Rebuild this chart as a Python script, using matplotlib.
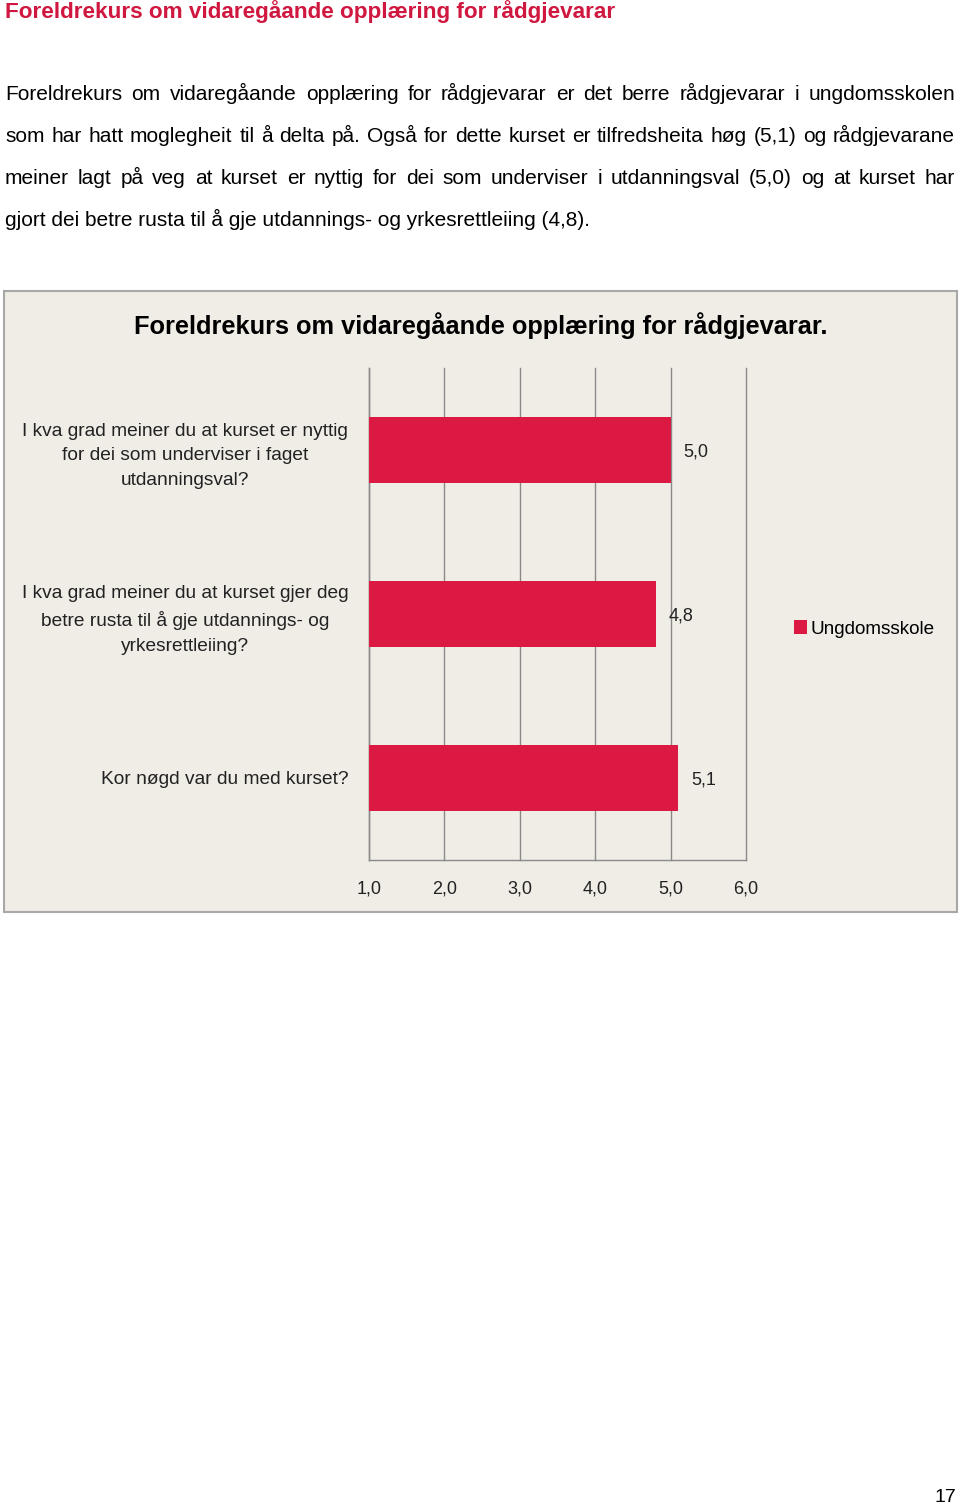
import matplotlib.pyplot as plt
from matplotlib.patches import Rectangle

# page text
page_title = 'Foreldrekurs om vidaregåande opplæring for rådgjevarar'
body_lines = [
    'Foreldrekurs om vidaregåande opplæring for rådgjevarar er det berre rådgjevarar i ungdomsskolen',
    'som har hatt moglegheit til å delta på. Også for dette kurset er tilfredsheita høg (5,1) og rådgjevarane',
    'meiner lagt på veg at kurset er nyttig for dei som underviser i utdanningsval (5,0) og at kurset har',
    'gjort dei betre rusta til å gje utdannings- og yrkesrettleiing (4,8).',
]
page_number = '17'

# chart data
chart_title = 'Foreldrekurs om vidaregåande opplæring for rådgjevarar.'
questions = [
    'I kva grad meiner du at kurset er nyttig\nfor dei som underviser i faget\nutdanningsval?',
    'I kva grad meiner du at kurset gjer deg\nbetre rusta til å gje utdannings- og\nyrkesrettleiing?',
    'Kor nøgd var du med kurset?',
]
values = [5.0, 4.8, 5.1]
value_labels = ['5,0', '4,8', '5,1']
xticks = [1, 2, 3, 4, 5, 6]
xtick_labels = ['1,0', '2,0', '3,0', '4,0', '5,0', '6,0']
series_name = 'Ungdomsskole'

W, H = 960, 1508
red = '#DC1942'
title_red = '#D0173F'
bg = '#F0ECE6'
plt.rcParams['font.family'] = ['Liberation Sans', 'DejaVu Sans']

fig = plt.figure(figsize=(W / 100, H / 100), dpi=100)


def fy(y):
    return 1 - y / H


fig.text(5 / W, fy(18), page_title, color=title_red, fontsize=16.2,
         fontweight='bold', va='baseline', ha='left')

# justified body text
renderer = fig.canvas.get_renderer()
left, right = 5, 955
body_fs = 15
body_y = [100, 142, 184, 226]
for i, line in enumerate(body_lines):
    words = line.split(' ')
    if i == len(body_lines) - 1:
        fig.text(left / W, fy(body_y[i]), line, fontsize=body_fs, va='baseline', ha='left')
        continue
    widths = []
    for w in words:
        t = fig.text(0, 0, w, fontsize=body_fs)
        widths.append(t.get_window_extent(renderer).width)
        t.remove()
    gap = (right - left - sum(widths)) / (len(words) - 1)
    x = left
    for w, wd in zip(words, widths):
        fig.text(x / W, fy(body_y[i]), w, fontsize=body_fs, va='baseline', ha='left')
        x += wd + gap

# chart box
fig.patches.append(Rectangle((4 / W, fy(912)), 953 / W, 621 / H, transform=fig.transFigure,
                             facecolor=bg, edgecolor='#A8A8A8', linewidth=1.5, zorder=-1))
fig.text(481 / W, fy(326), chart_title, fontsize=18.3, fontweight='bold',
         ha='center', va='center')

ax = fig.add_axes([369 / W, fy(860), 377 / W, 492 / H])
ax.set_zorder(2)
ax.set_facecolor('none')
ypos = list(range(len(values)))
bars = ax.barh(ypos, [v - 1 for v in values], left=1, height=0.4, color=red,
               label=series_name, zorder=3)
ax.set_xlim(1, 6)
ax.set_ylim(2.5, -0.5)
ax.set_xticks(xticks)
ax.set_xticklabels(xtick_labels, fontsize=13)
ax.set_yticks(ypos)
ax.set_yticklabels(questions, fontsize=13.8, multialignment='center', linespacing=1.6)
ax.tick_params(axis='both', length=0, colors='#222222')
ax.tick_params(axis='x', pad=15)
ax.tick_params(axis='y', pad=15)
ax.grid(axis='x', color='#8A8A8A', linewidth=1, zorder=1)
for gl in ax.get_xgridlines():
    gl.set_clip_on(False)
for s in ['top', 'right']:
    ax.spines[s].set_visible(False)
for s in ['left', 'bottom']:
    ax.spines[s].set_color('#8A8A8A')
    ax.spines[s].set_linewidth(1)
for y, v, lab in zip(ypos, values, value_labels):
    ax.annotate(lab, (v, y), xytext=(13, -2), textcoords='offset pixels',
                ha='left', va='center', fontsize=13, color='#222222')

fig.legend(handles=[bars], labels=[series_name], loc='center left',
           bbox_to_anchor=(777 / W, fy(629)), frameon=False, fontsize=13.6,
           handlelength=0.7, handleheight=0.7, handletextpad=0.15)

fig.text(945 / W, fy(1497), page_number, fontsize=14, ha='center', va='center')

fig.savefig('out.png', dpi=100)
